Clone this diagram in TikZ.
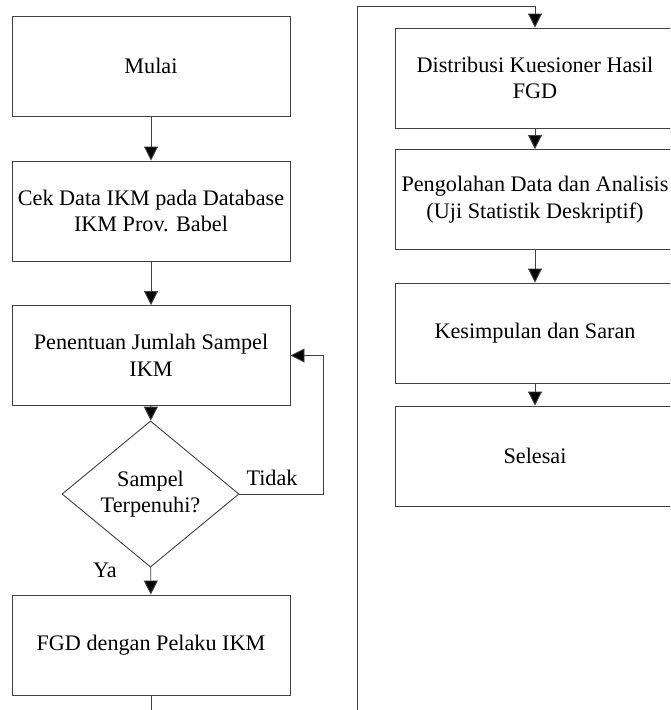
\documentclass[tikz,border=0pt]{standalone}
\usepackage{fontspec}
\setmainfont{Liberation Serif}
\usetikzlibrary{arrows.meta,shapes.geometric}
\begin{document}
\begin{tikzpicture}[x=1pt,y=-1pt,
  line/.style={draw=black!75, line width=0.9pt},
  arr/.style={line, -{Triangle[width=14pt,length=14pt,fill=black]}},
  box/.style={line, rectangle, minimum width=278pt, minimum height=100pt, inner sep=0pt, align=center,
     font=\fontsize{22.2}{26.5}\selectfont},
  rbox/.style={box, minimum width=280pt},
  dec/.style={line, diamond, minimum width=177pt, minimum height=134pt, inner sep=0pt, align=center,
     font=\fontsize{22.2}{26.5}\selectfont},
  lbl/.style={font=\fontsize{22.2}{26.5}\selectfont, inner sep=0pt}]
\clip (0,0) rectangle (670,710);
\fill[white] (0,0) rectangle (670,710);
\node[box] (mulai) at (151,66) {Mulai};
\node[box] (cek) at (151,211) {Cek Data IKM pada Database\\IKM Prov. Babel};
\node[box] (pen) at (151,355.5) {Penentuan Jumlah Sampel\\IKM};
\node[dec] (sam) at (150.5,494) {Sampel\\Terpenuhi?};
\node[box] (fgd) at (151,645) {FGD dengan Pelaku IKM};
\node[rbox] (dist) at (535,78) {Distribusi Kuesioner Hasil\\FGD};
\node[rbox] (olah) at (535,199.5) {Pengolahan Data dan Analisis\\(Uji Statistik Deskriptif)};
\node[rbox] (kes) at (535,333) {Kesimpulan dan Saran};
\node[rbox] (sel) at (535,456) {Selesai};
\node[lbl] (tidak) at (272,478) {Tidak};
\node[lbl] (ya) at (105,570) {Ya};
\coordinate (lb) at (151,712);
\coordinate (rb) at (357,712);
\coordinate (rt) at (357,6);
\coordinate (loop) at (323,494);
\draw[arr] (mulai) -- (cek);
\draw[arr] (cek) -- (pen);
\draw[arr] (pen) -- (sam);
\draw[arr] (sam.east) -- (loop) |- (pen.east);
\draw[arr] (sam) -- (fgd);
\draw[line] (fgd) -- (lb);
\draw[arr] (rb) -- (rt) -| (dist.north);
\draw[arr] (dist) -- (olah);
\draw[arr] (olah) -- (kes);
\draw[arr] (kes) -- (sel);
\end{tikzpicture}
\end{document}
